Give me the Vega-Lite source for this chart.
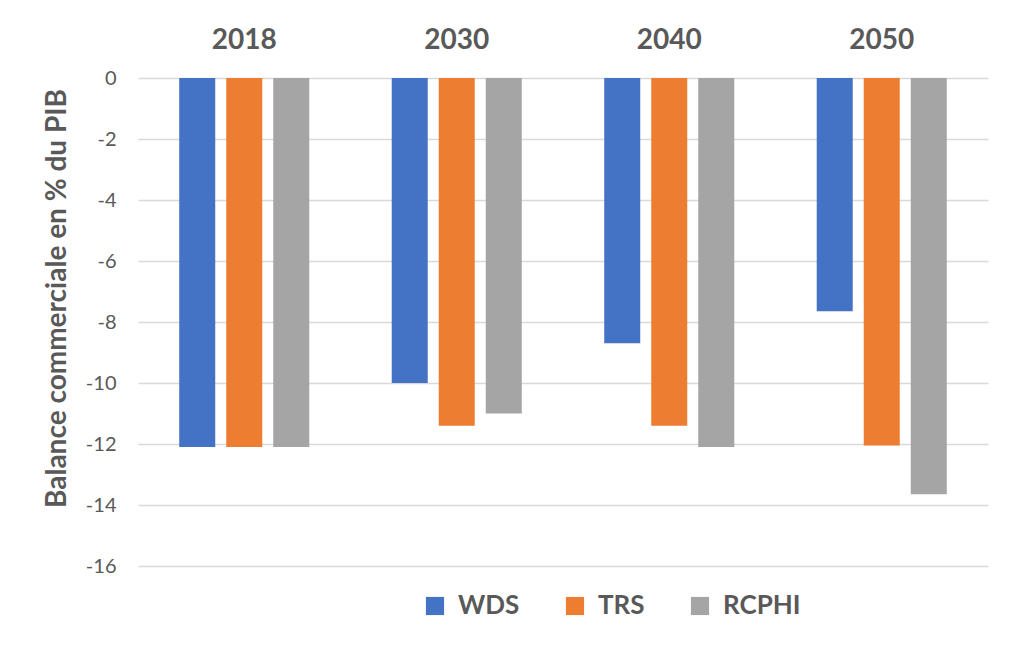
{
  "$schema": "https://vega.github.io/schema/vega-lite/v6.json",
  "autosize": {"type": "none"},
  "padding": {"left": 138, "top": 78, "right": 33, "bottom": 103},
  "width": 850,
  "height": 488,
  "background": "white",
  "config": {
    "font": "Lato",
    "view": {"stroke": null},
    "axis": {"labelColor": "#595959", "titleColor": "#595959", "domain": false, "ticks": false}
  },
  "data": {
    "values": [
      {"year": "2018", "scenario": "WDS", "value": -12.1},
      {"year": "2018", "scenario": "TRS", "value": -12.1},
      {"year": "2018", "scenario": "RCPHI", "value": -12.1},
      {"year": "2030", "scenario": "WDS", "value": -10.0},
      {"year": "2030", "scenario": "TRS", "value": -11.4},
      {"year": "2030", "scenario": "RCPHI", "value": -11.0},
      {"year": "2040", "scenario": "WDS", "value": -8.7},
      {"year": "2040", "scenario": "TRS", "value": -11.4},
      {"year": "2040", "scenario": "RCPHI", "value": -12.1},
      {"year": "2050", "scenario": "WDS", "value": -7.65},
      {"year": "2050", "scenario": "TRS", "value": -12.05},
      {"year": "2050", "scenario": "RCPHI", "value": -13.65}
    ]
  },
  "mark": {"type": "bar"},
  "encoding": {
    "x": {
      "field": "year", "type": "nominal", "title": null,
      "scale": {"paddingInner": 0.388, "paddingOuter": 0.194},
      "axis": {"orient": "top", "labelAngle": 0, "labelFontSize": 28, "labelFontWeight": "bold", "labelPadding": 24, "grid": false}
    },
    "xOffset": {
      "field": "scenario", "type": "nominal", "sort": ["WDS", "TRS", "RCPHI"],
      "scale": {"paddingInner": 0.234, "paddingOuter": 0}
    },
    "y": {
      "field": "value", "type": "quantitative",
      "title": "Balance commerciale en % du PIB",
      "scale": {"domain": [-16, 0], "nice": false},
      "axis": {"values": [0, -2, -4, -6, -8, -10, -12, -14, -16], "labelExpr": "'' + datum.value", "labelFontSize": 20, "labelPadding": 22, "gridColor": "#d9d9d9", "gridWidth": 1.5, "titleFontSize": 28, "titleFontWeight": "bold", "titlePadding": 14, "titleY": 220}
    },
    "color": {
      "field": "scenario", "type": "nominal", "sort": ["WDS", "TRS", "RCPHI"],
      "scale": {"domain": ["WDS", "TRS", "RCPHI"], "range": ["#4472C4", "#ED7D31", "#A5A5A5"]},
      "legend": {"title": null, "orient": "none", "direction": "horizontal", "legendX": 284, "legendY": 515, "symbolType": "square", "symbolSize": 330, "symbolStrokeWidth": 0, "labelFontSize": 26, "labelFontWeight": "bold", "labelColor": "#595959", "columnPadding": 42, "labelOffset": 10}
    }
  }
}
